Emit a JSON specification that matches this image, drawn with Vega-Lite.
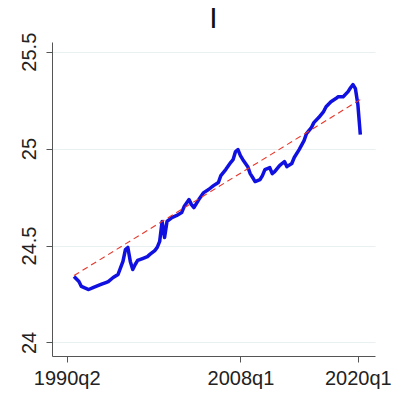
{
  "$schema": "https://vega.github.io/schema/vega-lite/v6.json",
  "autosize": "none",
  "width": 323,
  "height": 314,
  "padding": {"left": 52, "top": 42, "right": 20, "bottom": 43},
  "background": "white",
  "title": {"text": "I", "fontSize": 30, "fontWeight": "normal", "font": "Liberation Sans", "color": "#111111", "anchor": "middle", "frame": "group", "offset": -2},
  "config": {"view": {"stroke": null}, "axis": {"labelFont": "Liberation Sans", "labelFontSize": 20, "labelColor": "#222222", "domainColor": "#555555", "tickColor": "#555555", "tickSize": 6, "titleFontSize": 12}},
  "datasets": {
    "series": [
      {"q": 124, "v": 24.340}, {"q": 126, "v": 24.314}, {"q": 127, "v": 24.289}, {"q": 130, "v": 24.273},
      {"q": 132, "v": 24.284}, {"q": 133, "v": 24.289}, {"q": 135, "v": 24.299}, {"q": 137, "v": 24.309},
      {"q": 138, "v": 24.314}, {"q": 140, "v": 24.335}, {"q": 142, "v": 24.351}, {"q": 144, "v": 24.418},
      {"q": 145, "v": 24.479}, {"q": 146, "v": 24.490}, {"q": 147, "v": 24.418}, {"q": 148, "v": 24.376},
      {"q": 149, "v": 24.402}, {"q": 150, "v": 24.423}, {"q": 152, "v": 24.433}, {"q": 154, "v": 24.443},
      {"q": 155, "v": 24.454}, {"q": 157, "v": 24.474}, {"q": 158, "v": 24.490}, {"q": 159, "v": 24.521},
      {"q": 160, "v": 24.624}, {"q": 161, "v": 24.541}, {"q": 162, "v": 24.624}, {"q": 164, "v": 24.644},
      {"q": 166, "v": 24.655}, {"q": 168, "v": 24.670}, {"q": 169, "v": 24.701}, {"q": 171, "v": 24.737},
      {"q": 172, "v": 24.711}, {"q": 173, "v": 24.696}, {"q": 175, "v": 24.737}, {"q": 177, "v": 24.773},
      {"q": 179, "v": 24.789}, {"q": 181, "v": 24.809}, {"q": 183, "v": 24.825}, {"q": 184, "v": 24.861},
      {"q": 186, "v": 24.892}, {"q": 188, "v": 24.928}, {"q": 189, "v": 24.943}, {"q": 190, "v": 24.985},
      {"q": 191, "v": 24.995}, {"q": 192, "v": 24.964}, {"q": 193, "v": 24.943}, {"q": 195, "v": 24.907},
      {"q": 196, "v": 24.871}, {"q": 197, "v": 24.851}, {"q": 198, "v": 24.830}, {"q": 200, "v": 24.840},
      {"q": 201, "v": 24.861}, {"q": 202, "v": 24.892}, {"q": 204, "v": 24.902}, {"q": 205, "v": 24.871},
      {"q": 206, "v": 24.881}, {"q": 208, "v": 24.912}, {"q": 209, "v": 24.923}, {"q": 210, "v": 24.933},
      {"q": 211, "v": 24.907}, {"q": 213, "v": 24.923}, {"q": 214, "v": 24.954}, {"q": 216, "v": 24.995},
      {"q": 218, "v": 25.041}, {"q": 219, "v": 25.077}, {"q": 221, "v": 25.108}, {"q": 222, "v": 25.134},
      {"q": 224, "v": 25.160}, {"q": 226, "v": 25.191}, {"q": 227, "v": 25.216}, {"q": 229, "v": 25.242},
      {"q": 231, "v": 25.258}, {"q": 232, "v": 25.268}, {"q": 234, "v": 25.268}, {"q": 236, "v": 25.294},
      {"q": 237, "v": 25.314}, {"q": 238, "v": 25.330}, {"q": 239, "v": 25.309}, {"q": 240, "v": 25.227},
      {"q": 241, "v": 25.072}
    ],
    "trend": [
      {"q": 124, "v": 24.345},
      {"q": 241, "v": 25.253}
    ]
  },
  "encoding": {
    "x": {"field": "q", "type": "quantitative", "scale": {"domain": [115, 247], "nice": false, "zero": false},
      "axis": {"title": null, "grid": false, "values": [121, 192, 240], "labelPadding": 6,
        "labelExpr": "datum.value == 121 ? '1990q2' : datum.value == 192 ? '2008q1' : '2020q1'"}},
    "y": {"field": "v", "type": "quantitative", "scale": {"domain": [23.93, 25.55], "nice": false, "zero": false},
      "axis": {"title": null, "values": [24, 24.5, 25, 25.5], "grid": true, "gridColor": "#e9f0f2", "gridWidth": 1.2,
        "labelAngle": 270, "labelAlign": "center", "labelBaseline": "bottom", "labelPadding": 7,
        "labelExpr": "datum.value == 24 ? '24' : datum.value == 25 ? '25' : format(datum.value, '.1f')"}}
  },
  "layer": [
    {"data": {"name": "series"}, "mark": {"type": "line", "color": "#1010e0", "strokeWidth": 3.5, "strokeJoin": "round"}},
    {"data": {"name": "trend"}, "mark": {"type": "line", "color": "#e8372b", "strokeWidth": 1.1, "strokeDash": [6, 4]}}
  ]
}
